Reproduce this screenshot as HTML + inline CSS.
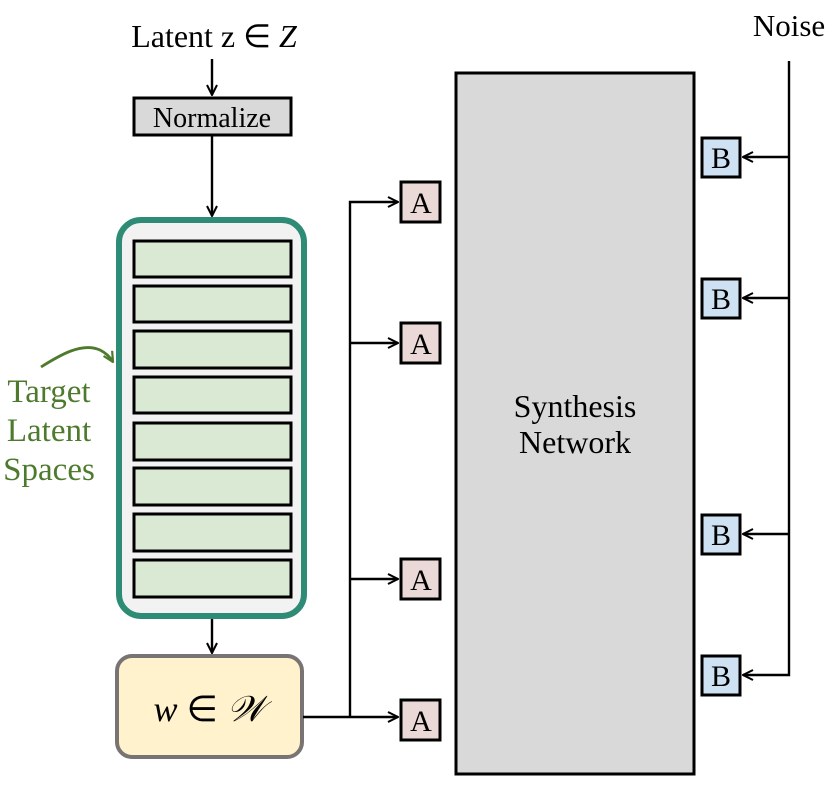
<!DOCTYPE html>
<html><head><meta charset="utf-8"><style>
html,body{margin:0;padding:0;background:#fff;}
svg{display:block;}
text{font-family:"Liberation Serif",serif;}
</style></head><body>
<svg width="831" height="785" viewBox="0 0 831 785" xmlns="http://www.w3.org/2000/svg">
<defs>
<marker id="ar" viewBox="0 0 12 12" refX="11" refY="6" markerWidth="12" markerHeight="12" markerUnits="userSpaceOnUse" orient="auto">
<path d="M1,1 L11,6 L1,11" fill="none" stroke="#000" stroke-width="2"/>
</marker>
<marker id="arg" viewBox="0 0 12 12" refX="11" refY="6" markerWidth="12" markerHeight="12" markerUnits="userSpaceOnUse" orient="auto">
<path d="M1,1 L11,6 L1,11" fill="none" stroke="#4e7a2e" stroke-width="2.2"/>
</marker>
</defs>
<text x="214" y="47" font-size="32" text-anchor="middle">Latent z ∈ <tspan font-style="italic">Z</tspan></text>
<line x1="212" y1="59" x2="212" y2="95" stroke="#000" stroke-width="2.4" marker-end="url(#ar)"/>
<rect x="134" y="98" width="157" height="37" fill="#d9d9d9" stroke="#000" stroke-width="3"/>
<text x="212" y="127" font-size="28" text-anchor="middle">Normalize</text>
<line x1="212" y1="135" x2="212" y2="216" stroke="#000" stroke-width="2.4" marker-end="url(#ar)"/>
<rect x="119" y="220" width="185" height="396" rx="22" fill="#f2f2f2" stroke="#2e8b75" stroke-width="6"/>
<g fill="#d9e9d3" stroke="#000" stroke-width="3">
<rect x="134" y="241" width="157" height="36"/>
<rect x="134" y="286" width="157" height="36"/>
<rect x="134" y="331" width="157" height="37"/>
<rect x="134" y="377" width="157" height="36"/>
<rect x="134" y="423" width="157" height="37"/>
<rect x="134" y="468" width="157" height="37"/>
<rect x="134" y="514" width="157" height="37"/>
<rect x="134" y="560" width="157" height="37"/>
</g>
<path d="M41,367 C60,355 82,342 100,350 C106,353 110,357 113,362" fill="none" stroke="#4e7a2e" stroke-width="2.8" marker-end="url(#arg)"/>
<g fill="#4e7a2e" font-size="33" text-anchor="middle">
<text x="49" y="402">Target</text>
<text x="49" y="441">Latent</text>
<text x="49" y="480">Spaces</text>
</g>
<line x1="212" y1="619" x2="212" y2="653" stroke="#000" stroke-width="2.4" marker-end="url(#ar)"/>
<rect x="117" y="656" width="185" height="101" rx="15" fill="#fff2cc" stroke="#787474" stroke-width="4"/>
<text x="209" y="721" font-size="36" text-anchor="middle" font-style="italic">w <tspan font-style="normal">∈</tspan> 𝒲</text>
<g stroke="#000" stroke-width="2.4" fill="none">
<line x1="303" y1="717" x2="350" y2="717"/>
<polyline points="350,717 350,202 398,202" marker-end="url(#ar)"/>
<line x1="350" y1="343" x2="398" y2="343" marker-end="url(#ar)"/>
<line x1="350" y1="579" x2="398" y2="579" marker-end="url(#ar)"/>
<line x1="350" y1="717" x2="398" y2="717" marker-end="url(#ar)"/>
</g>
<g fill="#ead9d6" stroke="#000" stroke-width="3">
<rect x="401" y="182" width="39" height="40"/>
<rect x="401" y="323" width="39" height="40"/>
<rect x="401" y="559" width="39" height="40"/>
<rect x="401" y="700" width="39" height="40"/>
</g>
<g font-size="30" text-anchor="middle">
<text x="421" y="213">A</text>
<text x="421" y="354">A</text>
<text x="421" y="590">A</text>
<text x="421" y="731">A</text>
</g>
<rect x="456" y="73" width="238" height="701" fill="#d9d9d9" stroke="#000" stroke-width="3"/>
<text x="575" y="417" font-size="32" text-anchor="middle">Synthesis</text>
<text x="575" y="453" font-size="32" text-anchor="middle">Network</text>
<text x="789" y="36" font-size="31" text-anchor="middle">Noise</text>
<g stroke="#000" stroke-width="2.4" fill="none">
<polyline points="789,61 789,675 743,675" marker-end="url(#ar)"/>
<line x1="789" y1="157" x2="743" y2="157" marker-end="url(#ar)"/>
<line x1="789" y1="298" x2="743" y2="298" marker-end="url(#ar)"/>
<line x1="789" y1="534" x2="743" y2="534" marker-end="url(#ar)"/>
</g>
<g fill="#cfe2f3" stroke="#000" stroke-width="3">
<rect x="702" y="138" width="38" height="39"/>
<rect x="702" y="279" width="38" height="39"/>
<rect x="702" y="515" width="38" height="39"/>
<rect x="702" y="656" width="38" height="39"/>
</g>
<g font-size="30" text-anchor="middle">
<text x="721" y="168">B</text>
<text x="721" y="309">B</text>
<text x="721" y="545">B</text>
<text x="721" y="686">B</text>
</g>
</svg>
</body></html>
